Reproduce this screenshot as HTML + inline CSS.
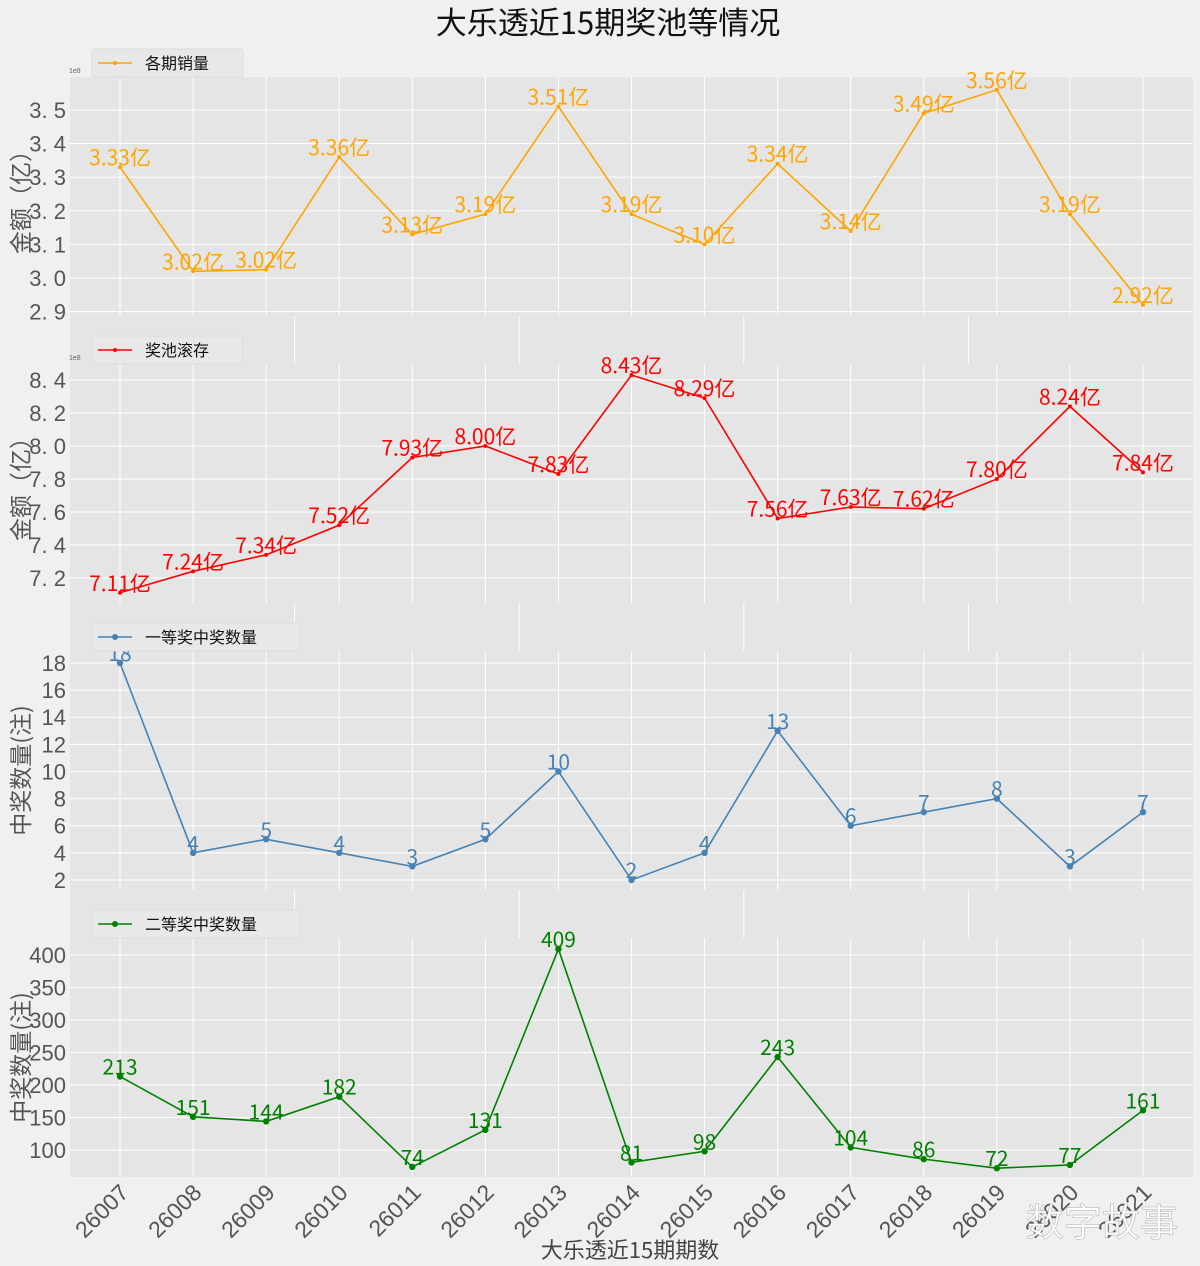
<!DOCTYPE html>
<html><head><meta charset="utf-8"><style>
body{margin:0;background:#f0f0f0;}
svg{display:block;font-family:"Liberation Sans","Noto Sans CJK SC",sans-serif;}
</style></head><body>
<svg id="c" width="1200" height="1266" viewBox="0 0 1200 1266" xmlns="http://www.w3.org/2000/svg">
<text x="608" y="34" font-size="31" text-anchor="middle" fill="#111" font-family="WenQuanYi Zen Hei, Noto Sans CJK SC, sans-serif">大乐透近15期奖池等情况</text>
<rect x="70" y="77" width="1123" height="1100" fill="#e5e5e5"/>
<g id="bg"></g>
<g id="plots"></g>
<text x="630" y="1258" font-size="22" text-anchor="middle" fill="#444" font-family="WenQuanYi Zen Hei, Noto Sans CJK SC, sans-serif">大乐透近15期期数</text>
<text x="1102" y="1236" font-size="38" text-anchor="middle" fill="#fff" stroke="#aaa" stroke-width="0.5" font-family="WenQuanYi Zen Hei, Noto Sans CJK SC, sans-serif">数字故事</text>
</svg>
<script>
const categories=["26007","26008","26009","26010","26011","26012","26013","26014","26015","26016","26017","26018","26019","26020","26021"];
const salesValues=[3.33,3.02,3.025,3.36,3.13,3.19,3.51,3.19,3.10,3.34,3.14,3.49,3.56,3.19,2.92];
const salesLabels=["3.33亿","3.02亿","3.02亿","3.36亿","3.13亿","3.19亿","3.51亿","3.19亿","3.10亿","3.34亿","3.14亿","3.49亿","3.56亿","3.19亿","2.92亿"];
const poolValues=[7.11,7.24,7.34,7.52,7.93,8.00,7.83,8.43,8.29,7.56,7.63,7.62,7.80,8.24,7.84];
const firstPrize=[18,4,5,4,3,5,10,2,4,13,6,7,8,3,7];
const secondPrize=[213,151,144,182,74,131,409,81,98,243,104,86,72,77,161];
const salesTicks=[2.9,3.0,3.1,3.2,3.3,3.4,3.5];
const poolTicks=[7.2,7.4,7.6,7.8,8.0,8.2,8.4];
const firstTicks=[2,4,6,8,10,12,14,16,18];
const secondTicks=[100,150,200,250,300,350,400];
const NS="http://www.w3.org/2000/svg";
const L=70,R=1193,x0=120,x1=1143;
const CJK='WenQuanYi Zen Hei, Noto Sans CJK SC, sans-serif';
function xs(i){return x0+(x1-x0)*i/(categories.length-1);}
function mk(tag,attrs,parent){const e=document.createElementNS(NS,tag);for(const k in attrs)e.setAttribute(k,attrs[k]);parent.appendChild(e);return e;}
const bg=document.getElementById('bg'),plots=document.getElementById('plots');
[0.2,0.4,0.6,0.8].forEach(f=>{const l=mk('line',{x1:L+f*(R-L),x2:L+f*(R-L),y1:77,y2:1177,stroke:'#fff','stroke-width':1},bg);

});
const panels=[
 {top:77,bot:316,min:2.887,max:3.598,vals:salesValues,labels:salesLabels,ticks:salesTicks,tf:v=>v.toFixed(1).replace('.','. '),color:'#ffa500',marker:'star',legend:'各期销量',ylab:'金额（亿）',name:'sales'},
 {top:364,bot:603,min:7.048,max:8.497,vals:poolValues,labels:poolValues.map(v=>v.toFixed(2)+'亿'),ticks:poolTicks,tf:v=>v.toFixed(1).replace('.','. '),color:'#ff0000',marker:'star',legend:'奖池滚存',ylab:'金额（亿）',name:'pool'},
 {top:651,bot:890,min:1.26,max:18.885,vals:firstPrize,labels:firstPrize.map(String),ticks:firstTicks,tf:v=>String(v),color:'#4682b4',marker:'dot',legend:'一等奖中奖数量',ylab:'中奖数量(注)',name:'first-prize'},
 {top:938,bot:1177,min:58.5,max:426,vals:secondPrize,labels:secondPrize.map(String),ticks:secondTicks,tf:v=>String(v),color:'#008000',marker:'dot',legend:'二等奖中奖数量',ylab:'中奖数量(注)',name:'second-prize'}
];
panels.forEach((p,pi)=>{
 const g=mk('g',{},plots);
 
 
 const ys=v=>p.bot-(v-p.min)/(p.max-p.min)*(p.bot-p.top);
 const r=mk('rect',{x:L,y:p.top,width:R-L,height:p.bot-p.top,fill:'#e5e5e5'},g);
 
 
 categories.forEach((c,i)=>{const l=mk('line',{x1:xs(i),x2:xs(i),y1:p.top,y2:p.bot,stroke:'#fff','stroke-width':1},g);
  
  });
 p.ticks.forEach(t=>{const y=ys(t);
  const l=mk('line',{x1:L,x2:R,y1:y,y2:y,stroke:'#fff','stroke-width':1},g);
  
  
  const tx=mk('text',{x:66,y:y+8,'font-size':22,'text-anchor':'end',fill:'#555'},g);tx.textContent=p.tf(t);
  
  });
 const my=(p.top+p.bot)/2;
 const yl=mk('text',{x:0,y:0,'font-size':23,'text-anchor':'middle',fill:'#555',transform:`translate(29,${my}) rotate(-90)`,'font-family':CJK},g);yl.textContent=p.ylab;
 
 
 if(pi<2){const e=mk('text',{x:69,y:p.top-4,'font-size':7,fill:'#666'},g);e.textContent='1e8';
  
  }
 const pts=p.vals.map((v,i)=>xs(i)+','+ys(v)).join(' ');
 const pl=mk('polyline',{points:pts,fill:'none',stroke:p.color,'stroke-width':1.6},g);
 
 
 p.vals.forEach((v,i)=>{
  const m=mk('circle',{cx:xs(i),cy:ys(v),r:p.marker==='dot'?3.2:2,fill:p.color},g);
  
  
  const t=mk('text',{x:xs(i),y:ys(v)-2,'font-size':21,'text-anchor':'middle',fill:p.color,'font-family':CJK},g);
  t.textContent=p.labels[i];
  
  
 });
 const lw=p.legend.length*19+75;
 const lg=mk('g',{},g);
 
 
 mk('rect',{x:92,y:p.top-28,width:lw,height:28,rx:3,fill:'#e8e8e8',stroke:'#ddd'},lg);
 mk('line',{x1:98,x2:132,y1:p.top-14,y2:p.top-14,stroke:p.color,'stroke-width':1.6},lg);
 mk('circle',{cx:115,cy:p.top-14,r:p.marker==='dot'?3:2,fill:p.color},lg);
 const lt=mk('text',{x:145,y:p.top-8,'font-size':16,fill:'#111','font-family':CJK},lg);lt.textContent=p.legend;
});
categories.forEach((c,i)=>{
 const t=mk('text',{x:0,y:0,'font-size':23,'text-anchor':'end',fill:'#555',transform:`translate(${xs(i)+10},${1194}) rotate(-45)`},plots);
 t.textContent=c;
 
 
});
</script>
</body></html>
